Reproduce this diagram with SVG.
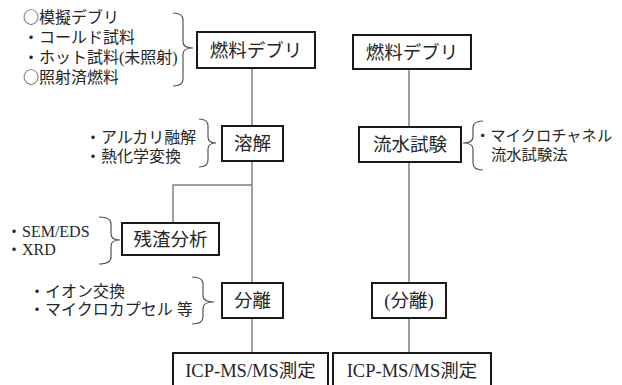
<svg xmlns="http://www.w3.org/2000/svg" width="622" height="385" viewBox="0 0 622 385">
<style>
text{font-family:"Liberation Serif","Noto Sans CJK JP",serif;fill:#262626}
.bt{font-size:18.5px;text-anchor:middle}
.st{font-size:16px}
.cj{font-family:"Noto Sans CJK JP",sans-serif}
.box{fill:#fff;stroke:#1a1a1a;stroke-width:2}
.ln{fill:none;stroke:#808080;stroke-width:1.5}
.br{fill:none;stroke:#555;stroke-width:1.2}
</style>
<rect width="622" height="385" fill="#fff"/>
<g id="connectors">
<path class="ln" d="M252 68V126M252 161V283M252 318V353M252 185H173V223"/>
<path class="ln" d="M409 69V127M409 162V283M409 318V353"/>
</g>
<g id="brackets">
<path class="br" d="M173 13Q183 13 183 20L183 42Q183 48 193 48M193 48Q183 48 183 54L183 79Q183 86 173 86"/>
<path class="br" d="M199 119Q208 119 208 126L208 137Q208 143 216 143M216 143Q208 143 208 149L208 160Q208 167 199 167"/>
<path class="br" d="M99 217Q111 217 111 224L111 234Q111 240 120 240M120 240Q111 240 111 246L111 257Q111 264 99 264"/>
<path class="br" d="M192 277Q203 277 203 284L203 296Q203 302 214 302M214 302Q203 302 203 308L203 317Q203 324 192 324"/>
<path class="br" d="M483 121Q473 121 473 128L473 137Q473 143 463 143M463 143Q473 143 473 149L473 163Q473 170 483 170"/>
</g>
<g id="n-debris-l"><rect class="box" x="197" y="32" width="118" height="36"/><text class="bt" x="256" y="56.5">燃料デブリ</text></g>
<g id="n-debris-r"><rect class="box" x="353" y="35" width="118" height="34"/><text class="bt" x="412" y="58.5">燃料デブリ</text></g>
<g id="n-dissolve"><rect class="box" x="222" y="126" width="61" height="35"/><text class="bt" x="252.5" y="150">溶解</text></g>
<g id="n-flow"><rect class="box" x="359" y="127" width="102" height="35"/><text class="bt" x="410" y="151">流水試験</text></g>
<g id="n-residue"><rect class="box" x="122" y="223" width="97" height="32"/><text class="bt" x="170.5" y="245.5">残渣分析</text></g>
<g id="n-sep-l"><rect class="box" x="222" y="283" width="61" height="35"/><text class="bt" x="252.5" y="307">分離</text></g>
<g id="n-sep-r"><rect class="box" x="372" y="283" width="74" height="35"/><text class="bt" x="409" y="307">(分離)</text></g>
<g id="n-icp-l"><rect class="box" x="173" y="353" width="155" height="40"/><text class="bt" x="250.5" y="377">ICP-MS/MS測定</text></g>
<g id="n-icp-r"><rect class="box" x="333" y="353" width="158" height="40"/><text class="bt" x="412" y="377">ICP-MS/MS測定</text></g>
<g id="labels">
<text class="st" x="23" y="23"><tspan class="cj">○</tspan>模擬デブリ</text>
<text class="st" x="23" y="43">・コールド試料</text>
<text class="st" x="23" y="62.5">・ホット試料(未照射)</text>
<text class="st" x="23" y="83"><tspan class="cj">○</tspan>照射済燃料</text>
<text class="st" x="85" y="143">・アルカリ融解</text>
<text class="st" x="85" y="162">・熱化学変換</text>
<text class="st" x="6" y="236.5">・SEM/EDS</text>
<text class="st" x="6" y="254.5">・XRD</text>
<text class="st" x="29" y="297">・イオン交換</text>
<text class="st" x="29" y="315">・マイクロカプセル 等</text>
<text class="st" x="475" y="141" style="font-size:15.3px">・マイクロチャネル</text>
<text class="st" x="491" y="160" style="font-size:15.3px">流水試験法</text>
</g>
</svg>
